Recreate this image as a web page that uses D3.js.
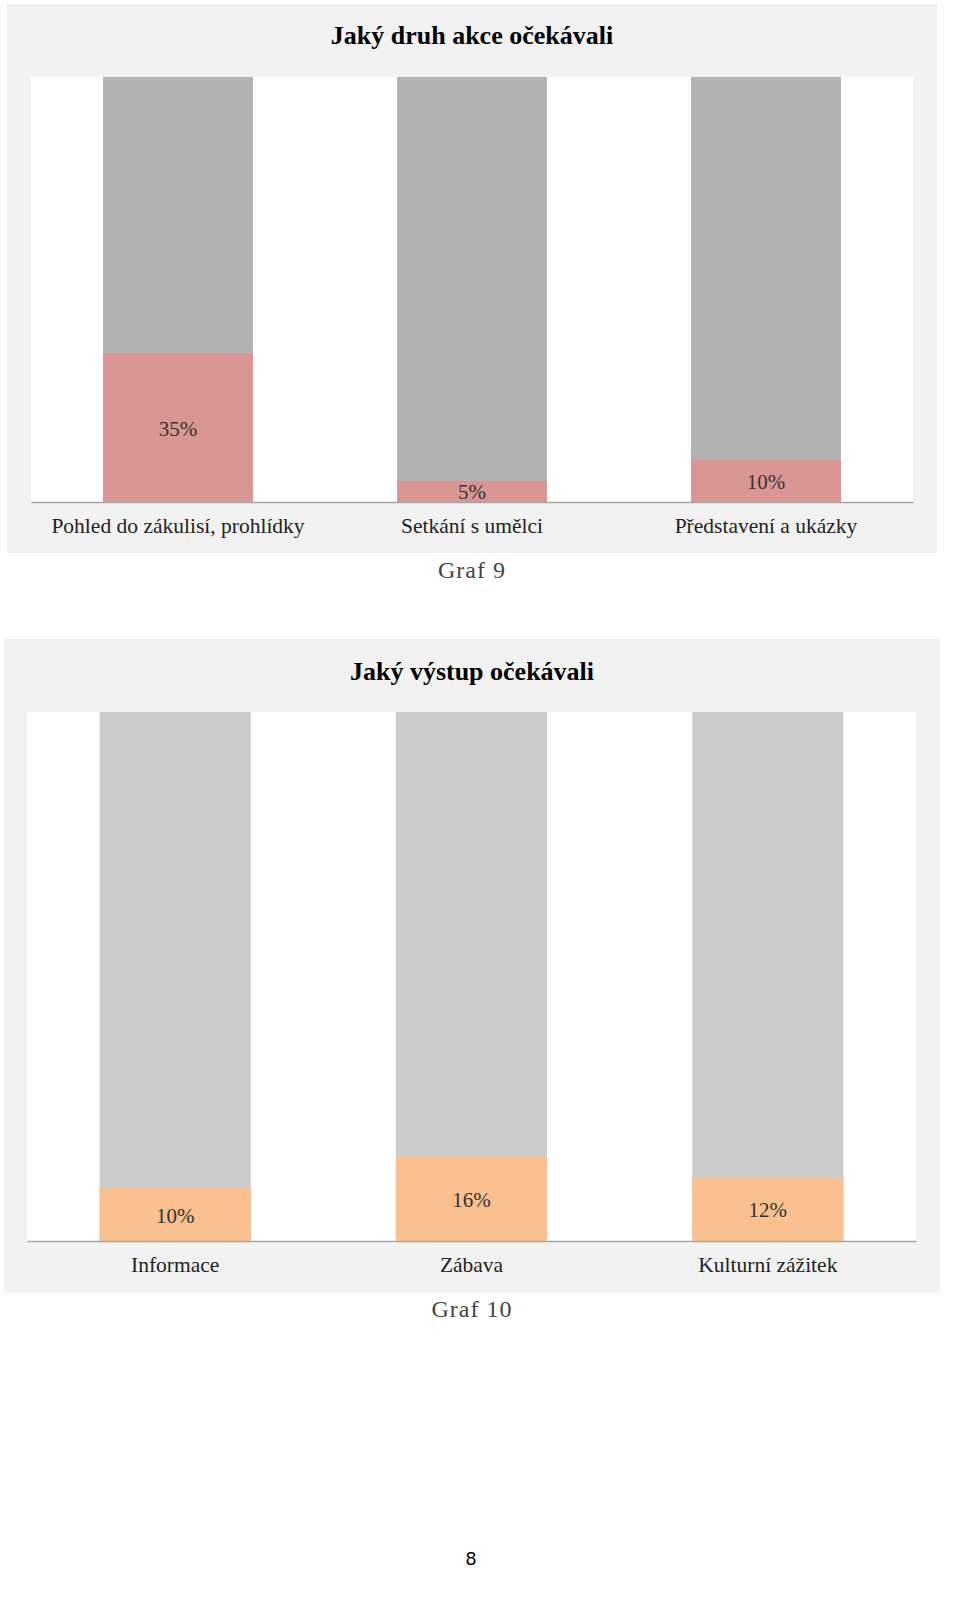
<!DOCTYPE html>
<html><head><meta charset="utf-8">
<script src="https://cdn.jsdelivr.net/npm/d3@7"></script>
<style>body{margin:0;background:#fff}</style>
</head><body>
<script>
// Graf 9
const cats9 = ["Pohled do zákulisí, prohlídky", "Setkání s umělci", "Představení a ukázky"];
const vals9 = [35, 5, 10];
// Graf 10
const cats10 = ["Informace", "Zábava", "Kulturní zážitek"];
const vals10 = [10, 16, 12];

const svg = d3.select("body").append("svg").attr("width", 960).attr("height", 1597);
const serif = "'Liberation Serif', 'Times New Roman', serif";

function drawChart(cfg) {
    // panel
    svg.append("rect").attr("x", cfg.panel[0]).attr("y", cfg.panel[1])
        .attr("width", cfg.panel[2]).attr("height", cfg.panel[3]).attr("fill", "#f2f2f2");
    svg.append("rect").attr("x", cfg.plot[0]).attr("y", cfg.plot[1])
        .attr("width", cfg.plot[2]).attr("height", cfg.plot[3]).attr("fill", "#fff");
    svg.append("text").attr("x", 472).attr("y", cfg.titleY).attr("text-anchor", "middle")
        .attr("font-family", serif).attr("font-weight", "bold").attr("font-size", 26)
        .text(cfg.title);

    const x = d3.scaleBand().domain(cfg.cats)
        .range([cfg.plot[0], cfg.plot[0] + cfg.plot[2]]).paddingInner(0.49).paddingOuter(0.245);
    const y = d3.scaleLinear().domain([0, 100]).range([cfg.plot[1] + cfg.plot[3], cfg.plot[1]]);
    const g = svg.append("g");

    g.selectAll(".bg").data(cfg.cats).enter().append("rect")
        .attr("x", d => x(d)).attr("width", x.bandwidth())
        .attr("y", y(100)).attr("height", y(0) - y(100)).attr("fill", cfg.grey);
    g.selectAll(".val").data(cfg.vals).enter().append("rect")
        .attr("x", (d, i) => x(cfg.cats[i])).attr("width", x.bandwidth())
        .attr("y", d => y(d)).attr("height", d => y(0) - y(d)).attr("fill", cfg.color);
    g.selectAll(".lbl").data(cfg.vals).enter().append("text")
        .attr("x", (d, i) => x(cfg.cats[i]) + x.bandwidth() / 2)
        .attr("y", d => (y(d) + y(0)) / 2 + 8)
        .attr("text-anchor", "middle").attr("font-family", serif).attr("font-size", 21)
        .attr("fill", "#333").text(d => d + "%");

    const axis = d3.axisBottom(x).tickSize(0).tickPadding(16);
    const ax = svg.append("g").attr("transform", "translate(0," + y(0) + ")").call(axis);
    ax.select(".domain").attr("stroke", "#a6a6a6").attr("stroke-width", 1.5);
    ax.selectAll("text").attr("font-family", serif).attr("font-size", 21.5).attr("fill", "#222");

    svg.append("text").attr("x", 472).attr("y", cfg.captionY).attr("text-anchor", "middle")
        .attr("font-family", serif).attr("font-size", 24).attr("fill", "#444").attr("letter-spacing", 1)
        .text(cfg.caption);
}

drawChart({
    panel: [7, 4, 930, 549], plot: [31, 77, 882, 425], titleY: 44,
    title: "Jaký druh akce očekávali", cats: cats9, vals: vals9,
    grey: "#b3b3b3", color: "#d99694", caption: "Graf 9", captionY: 578
});
drawChart({
    panel: [4, 639, 936, 654], plot: [27, 712, 889, 529], titleY: 680,
    title: "Jaký výstup očekávali", cats: cats10, vals: vals10,
    grey: "#cccccc", color: "#fac090", caption: "Graf 10", captionY: 1317
});

svg.append("text").attr("x", 471).attr("y", 1565).attr("text-anchor", "middle")
    .attr("font-family", "'DejaVu Sans', sans-serif").attr("font-size", 18).text("8");
</script>
</body></html>
